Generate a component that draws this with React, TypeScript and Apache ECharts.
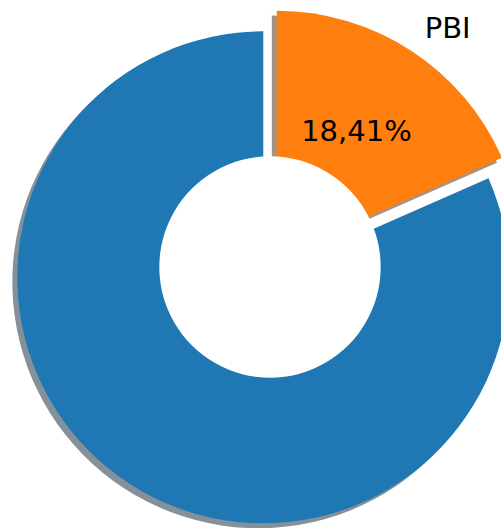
import React, { useEffect, useRef } from "react";
import * as echarts from "echarts";

const categories = ["PBI", ""];
const values = [18.41, 81.59];
const pctLabels = ["18,41%", ""];
const colors = ["#ff7f0e", "#1f77b4"];
const explode = [0.05, 0.05];

function shadowOf(hex: string) {
  const n = parseInt(hex.slice(1), 16);
  const r = ((n >> 16) & 255) * 0.3;
  const g = ((n >> 8) & 255) * 0.3;
  const b = (n & 255) * 0.3;
  return `rgba(${r.toFixed(0)},${g.toFixed(0)},${b.toFixed(0)},0.5)`;
}

export default function App() {
  const ref = useRef<HTMLDivElement>(null);
  useEffect(() => {
    const chart = echarts.init(ref.current!, null, { renderer: "svg" });
    const ox = 270, oy = 267, R = 246;
    const total = values.reduce((a, b) => a + b, 0);
    let start = 90;
    const centers = values.map((v, i) => {
      const sweep = (v / total) * 360;
      const mid = ((start - sweep / 2) * Math.PI) / 180;
      start -= sweep;
      const d = explode[i] * R;
      return [ox + d * Math.cos(mid), oy - d * Math.sin(mid)];
    });
    const sh = 0.02 * R;
    const base: any = {
      type: "pie",
      startAngle: 90,
      clockwise: true,
      silent: true,
      avoidLabelOverlap: false,
      emphasis: { disabled: true },
      label: { show: false },
      labelLine: { show: false },
    };
    const clear = { color: "rgba(0,0,0,0)", borderWidth: 0 };
    const only = (i: number, style: any) =>
      values.map((v, j) => ({
        value: v,
        name: categories[j],
        itemStyle: j === i ? { ...style, borderWidth: 0 } : clear,
      }));
    const series: any[] = [];
    values.forEach((_, i) =>
      series.push({
        ...base,
        center: [centers[i][0] - sh, centers[i][1] + sh],
        radius: [0, R],
        data: only(i, { color: shadowOf(colors[i]) }),
      })
    );
    values.forEach((_, i) =>
      series.push({
        ...base,
        center: centers[i],
        radius: [0, R],
        data: only(i, { color: colors[i] }),
      })
    );
    series.push({
      ...base,
      center: [ox, oy],
      radius: [0, 0.45 * R],
      data: [{ value: 1, itemStyle: { color: "#ffffff", borderWidth: 0 } }],
    });
    const font = { fontFamily: "DejaVu Sans", fontSize: 29, color: "#000000" };
    values.forEach((_, i) => {
      if (!pctLabels[i]) return;
      series.push({
        ...base,
        center: centers[i],
        radius: [0.6 * R * 2 - R - 6, R],
        data: values.map((v, j) => ({
          value: v,
          name: categories[j],
          itemStyle: clear,
          label: {
            show: j === i,
            position: "inside",
            formatter: pctLabels[j],
            offset: [-1, -2],
            ...font,
          },
        })),
      });
    });
    values.forEach((_, i) => {
      if (!categories[i]) return;
      series.push({
        ...base,
        center: centers[i],
        radius: [0, R],
        labelLine: { show: false, length: 0.1 * R, length2: 0 },
        data: values.map((v, j) => ({
          value: v,
          name: categories[j],
          itemStyle: clear,
          label: {
            show: j === i,
            position: "outside",
            distanceToLabelLine: 0,
            formatter: categories[j],
            offset: [0, -2],
            ...font,
          },
        })),
      });
    });
    chart.setOption({ animation: false, series });
    return () => chart.dispose();
  }, []);
  return (
    <div
      ref={ref}
      style={{ position: "fixed", left: 0, top: 0, width: 501, height: 528, background: "#fff" }}
    />
  );
}
